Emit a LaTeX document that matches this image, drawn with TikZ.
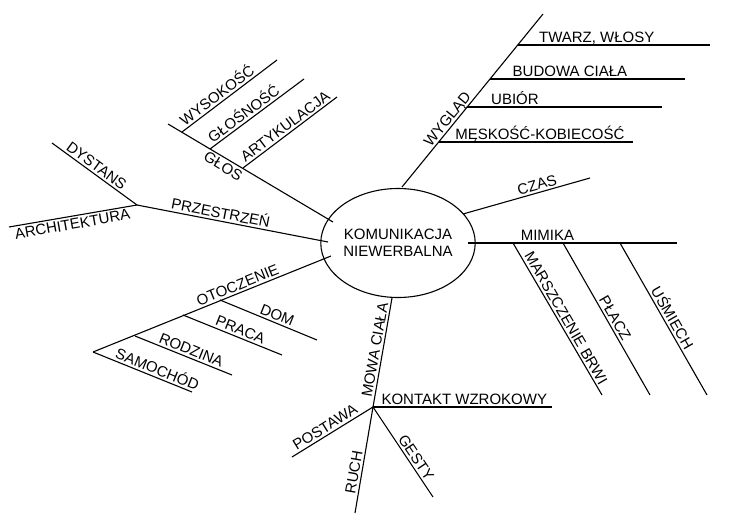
\documentclass[tikz,border=0pt]{standalone}
\usepackage{fontspec}
\setmainfont{Liberation Sans}
\usetikzlibrary{shapes.geometric,calc}
\begin{document}
\begin{tikzpicture}[x=1pt,y=-1pt,line width=1.1pt,
  lbl/.style={inner sep=2.2pt,text depth=0pt,font=\fontsize{15}{17}\selectfont},
  up/.style={lbl,anchor=south},
  dn/.style={lbl,anchor=north},
  br/.style={draw=black,line width=1.1pt}]
\useasboundingbox[fill=white] (0,0) rectangle (734,525);
\node[ellipse,draw,line width=1.1pt,minimum width=140pt,minimum height=109pt,inner sep=0pt,align=center,
  font=\fontsize{15}{17.5}\selectfont] (hub) at (398,243) {KOMUNIKACJA\\NIEWERBALNA};
% attachment points on the ellipse
\coordinate (eGlos) at (333,222);
\coordinate (ePrz) at (328,242);
\coordinate (eOto) at (331,256);
\coordinate (eMowa) at (392,298);
\coordinate (eWyg) at (402,187);
\coordinate (eCzas) at (463,214);
\coordinate (eMim) at (468,243);
% GLOS
\coordinate (glosEnd) at (168,124);
\coordinate (gA) at (182,132); \coordinate (gA2) at (277,60);
\coordinate (gB) at (210,149); \coordinate (gB2) at (304,79);
\coordinate (gC) at (243,168); \coordinate (gC2) at (337,97);
\draw[br] (eGlos) -- (glosEnd);
\draw[br] (gA) -- (gA2);
\draw[br] (gB) -- (gB2);
\draw[br] (gC) -- (gC2);
\node[up,rotate=37] (lWys) at ($(gA)!0.42!(gA2)$) {WYSOKOŚĆ};
\node[up,rotate=37] (lGlo) at ($(gB)!0.41!(gB2)$) {GŁOŚNOŚĆ};
\node[up,rotate=37] (lArt) at ($(gC)!0.5!(gC2)$) {ARTYKULACJA};
\node[dn,rotate=-31] (lGlos) at ($(glosEnd)!0.36!(eGlos)$) {GŁOS};
% PRZESTRZEN
\coordinate (pJ) at (137,205);
\coordinate (pD) at (52,143);
\coordinate (pA) at (9,227);
\draw[br] (ePrz) -- (pJ);
\draw[br] (pJ) -- (pD);
\draw[br] (pJ) -- (pA);
\node[up,rotate=-11] (lPrz) at ($(pJ)!0.43!(ePrz)$) {PRZESTRZEŃ};
\node[up,rotate=-36] (lDys) at ($(pD)!0.47!(pJ)$) {DYSTANS};
\node[dn,rotate=10] (lArch) at ($(pA)!0.485!(pJ)$) {ARCHITEKTURA};
% OTOCZENIE
\coordinate (oEnd) at (93,352);
\coordinate (oA) at (220,300); \coordinate (oA2) at (317,340);
\coordinate (oB) at (183,315); \coordinate (oB2) at (282,355);
\coordinate (oC) at (135,336); \coordinate (oC2) at (232,375);
\coordinate (oD2) at (192,392);
\draw[br] (eOto) -- (oEnd);
\draw[br] (oA) -- (oA2);
\draw[br] (oB) -- (oB2);
\draw[br] (oC) -- (oC2);
\draw[br] (oEnd) -- (oD2);
\node[up,rotate=22] (lOto) at ($(oEnd)!0.62!(eOto)$) {OTOCZENIE};
\node[up,rotate=-22] (lDom) at ($(oA)!0.56!(oA2)$) {DOM};
\node[up,rotate=-22] (lPra) at ($(oB)!0.55!(oB2)$) {PRACA};
\node[up,rotate=-22] (lRod) at ($(oC)!0.55!(oC2)$) {RODZINA};
\node[up,rotate=-22] (lSam) at ($(oEnd)!0.62!(oD2)$) {SAMOCHÓD};
% MOWA CIALA
\coordinate (mJ) at (373,407);
\coordinate (mK) at (552,407);
\coordinate (mP) at (292,457);
\coordinate (mR) at (355,513);
\coordinate (mG) at (433,497);
\draw[br] (eMowa) -- (mJ);
\draw[br] (mJ) -- (mK);
\draw[br] (mJ) -- (mP);
\draw[br] (mJ) -- (mR);
\draw[br] (mJ) -- (mG);
\node[up,rotate=80] (lMowa) at ($(mJ)!0.51!(eMowa)$) {MOWA CIAŁA};
\node[up] (lKon) at ($(mJ)!0.51!(mK)$) {KONTAKT WZROKOWY};
\node[up,rotate=32] (lPos) at ($(mP)!0.46!(mJ)$) {POSTAWA};
\node[up,rotate=80] (lRuch) at ($(mR)!0.37!(mJ)$) {RUCH};
\node[up,rotate=-56] (lGes) at ($(mJ)!0.61!(mG)$) {GESTY};
% WYGLAD
\coordinate (wEnd) at (543,14);
\coordinate (wA) at (518,45); \coordinate (wA2) at (710,45);
\coordinate (wB) at (490,79); \coordinate (wB2) at (685,79);
\coordinate (wC) at (467,107); \coordinate (wC2) at (662,107);
\coordinate (wD) at (439,142); \coordinate (wD2) at (633,142);
\draw[br] (eWyg) -- (wEnd);
\draw[br] (wA) -- (wA2);
\draw[br] (wB) -- (wB2);
\draw[br] (wC) -- (wC2);
\draw[br] (wD) -- (wD2);
\node[up,rotate=51] (lWyg) at ($(eWyg)!0.365!(wEnd)$) {WYGLĄD};
\node[up] (lTw) at ($(wA)!0.41!(wA2)$) {TWARZ, WŁOSY};
\node[up] (lBud) at ($(wB)!0.41!(wB2)$) {BUDOWA CIAŁA};
\node[up] (lUbi) at ($(wC)!0.246!(wC2)$) {UBIÓR};
\node[up] (lMes) at ($(wD)!0.52!(wD2)$) {MĘSKOŚĆ-KOBIECOŚĆ};
% CZAS
\coordinate (cEnd) at (590,178);
\draw[br] (eCzas) -- (cEnd);
\node[up,rotate=16] (lCzas) at ($(eCzas)!0.6!(cEnd)$) {CZAS};
% MIMIKA
\coordinate (miEnd) at (677,243);
\coordinate (miA) at (513,243); \coordinate (miA2) at (602,395);
\coordinate (miB) at (563,243); \coordinate (miB2) at (650,395);
\coordinate (miC) at (620,243); \coordinate (miC2) at (707,395);
\draw[br] (eMim) -- (miEnd);
\draw[br] (miA) -- (miA2);
\draw[br] (miB) -- (miB2);
\draw[br] (miC) -- (miC2);
\node[up] (lMim) at ($(eMim)!0.38!(miEnd)$) {MIMIKA};
\node[up,rotate=-60] (lMar) at ($(miA)!0.52!(miA2)$) {MARSZCZENIE BRWI};
\node[up,rotate=-60] (lPla) at ($(miB)!0.52!(miB2)$) {PŁACZ};
\node[up,rotate=-60] (lUsm) at ($(miC)!0.52!(miC2)$) {UŚMIECH};
\end{tikzpicture}
\end{document}
